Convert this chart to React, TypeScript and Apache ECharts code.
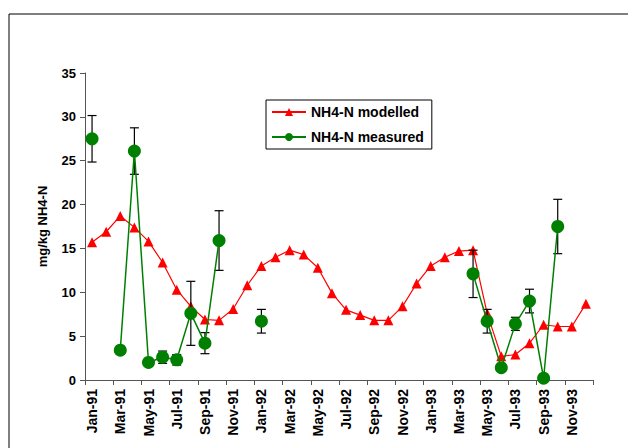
import React, { useEffect, useRef } from "react";
import * as echarts from "echarts";

const monthNames = ["Jan", "Feb", "Mar", "Apr", "May", "Jun", "Jul", "Aug", "Sep", "Oct", "Nov", "Dec"];
const years = ["91", "92", "93"];
const categories: string[] = [];
years.forEach((y) => monthNames.forEach((m) => categories.push(m + "-" + y)));

const modelled = [
  15.7, 16.9, 18.7, 17.4, 15.8, 13.4, 10.3, 8.4, 6.9, 6.8, 8.1, 10.8,
  13.0, 14.0, 14.8, 14.3, 12.8, 9.9, 8.0, 7.4, 6.8, 6.8, 8.4, 11.0,
  13.0, 14.0, 14.7, 14.8, 7.6, 2.7, 2.9, 4.2, 6.3, 6.1, 6.1, 8.7,
];

const measured: (number | null)[] = [
  27.5, null, 3.4, 26.1, 2.0, 2.6, 2.3, 7.6, 4.2, 15.9, null, null,
  6.7, null, null, null, null, null, null, null, null, null, null, null,
  null, null, null, 12.1, 6.7, 1.4, 6.4, 9.0, 0.2, 17.5, null, null,
];

const measuredError: (number | null)[] = [
  2.65, null, 0.4, 2.65, 0.2, 0.7, 0.6, 3.65, 1.2, 3.4, null, null,
  1.35, null, null, null, null, null, null, null, null, null, null, null,
  null, null, null, 2.7, 1.35, 0.3, 0.75, 1.35, 0.1, 3.1, null, null,
];

const yTicks = { min: 0, max: 35, interval: 5 };

export default function App() {
  const ref = useRef<HTMLDivElement>(null);
  useEffect(() => {
    if (!ref.current) return;
    const chart = echarts.init(ref.current, null, { renderer: "svg" });
    const errData: number[][] = [];
    measured.forEach((v, i) => {
      const e = measuredError[i];
      if (v != null && e != null) errData.push([i, v - e, v + e]);
    });
    const font = "'Liberation Sans', Arial, sans-serif";
    chart.setOption({
      animation: false,
      backgroundColor: "#ffffff",
      textStyle: { fontFamily: font },
      graphic: [
        {
          type: "rect",
          shape: { x: 9, y: 14, width: 640, height: 500 },
          style: { fill: "none", stroke: "#000", lineWidth: 1 },
          silent: true,
        },
      ],
      grid: { left: 85, top: 73, width: 508, height: 307 },
      legend: {
        data: ["NH4-N modelled", "NH4-N measured"],
        orient: "vertical",
        left: 266,
        top: 100,
        borderColor: "#000",
        borderWidth: 1,
        padding: [5, 8, 5, 5],
        itemWidth: 34,
        itemHeight: 10,
        itemGap: 11,
        textStyle: { fontFamily: font, fontSize: 14, fontWeight: "bold", color: "#000" },
      },
      xAxis: {
        type: "category",
        data: categories,
        boundaryGap: true,
        axisLine: { lineStyle: { color: "#555", width: 1 } },
        axisTick: { show: true, interval: 1, length: 5, lineStyle: { color: "#555" } },
        axisLabel: {
          interval: 1,
          rotate: 90,
          margin: 9,
          fontFamily: font,
          fontSize: 14,
          fontWeight: "bold",
          color: "#000",
        },
        splitLine: { show: false },
      },
      yAxis: {
        type: "value",
        min: yTicks.min,
        max: yTicks.max,
        interval: yTicks.interval,
        name: "mg/kg NH4-N",
        nameLocation: "middle",
        nameGap: 36,
        nameTextStyle: { fontFamily: font, fontSize: 13, fontWeight: "bold", color: "#000" },
        axisLine: { show: true, lineStyle: { color: "#555", width: 1 } },
        axisTick: { show: true, length: 5, lineStyle: { color: "#555" } },
        axisLabel: { margin: 9, fontFamily: font, fontSize: 13, fontWeight: "bold", color: "#000" },
        splitLine: { show: false },
      },
      series: [
        {
          name: "NH4-N modelled",
          type: "line",
          data: modelled,
          symbol: "triangle",
          symbolSize: 10,
          showSymbol: true,
          showAllSymbol: true,
          itemStyle: { color: "#ff0000" },
          lineStyle: { color: "#ff0000", width: 1.2 },
          z: 2,
        },
        {
          name: "errors",
          type: "custom",
          data: errData,
          z: 3,
          renderItem: (params: any, api: any) => {
            const x = api.value(0);
            const lo = api.coord([x, api.value(1)]);
            const hi = api.coord([x, api.value(2)]);
            const w = 4.5;
            const st = { stroke: "#000", lineWidth: 1.2 };
            return {
              type: "group",
              children: [
                { type: "line", shape: { x1: hi[0], y1: hi[1], x2: lo[0], y2: lo[1] }, style: st },
                { type: "line", shape: { x1: hi[0] - w, y1: hi[1], x2: hi[0] + w, y2: hi[1] }, style: st },
                { type: "line", shape: { x1: lo[0] - w, y1: lo[1], x2: lo[0] + w, y2: lo[1] }, style: st },
              ],
            };
          },
        },
        {
          name: "NH4-N measured",
          type: "line",
          data: measured,
          connectNulls: false,
          symbol: "circle",
          symbolSize: 13,
          showSymbol: true,
          showAllSymbol: true,
          itemStyle: { color: "#008000" },
          lineStyle: { color: "#008000", width: 1.5 },
          z: 4,
        },
      ],
    });
    return () => chart.dispose();
  }, []);
  return (
    <div
      ref={ref}
      style={{ position: "absolute", left: 0, top: 0, width: 628, height: 448 }}
    />
  );
}
